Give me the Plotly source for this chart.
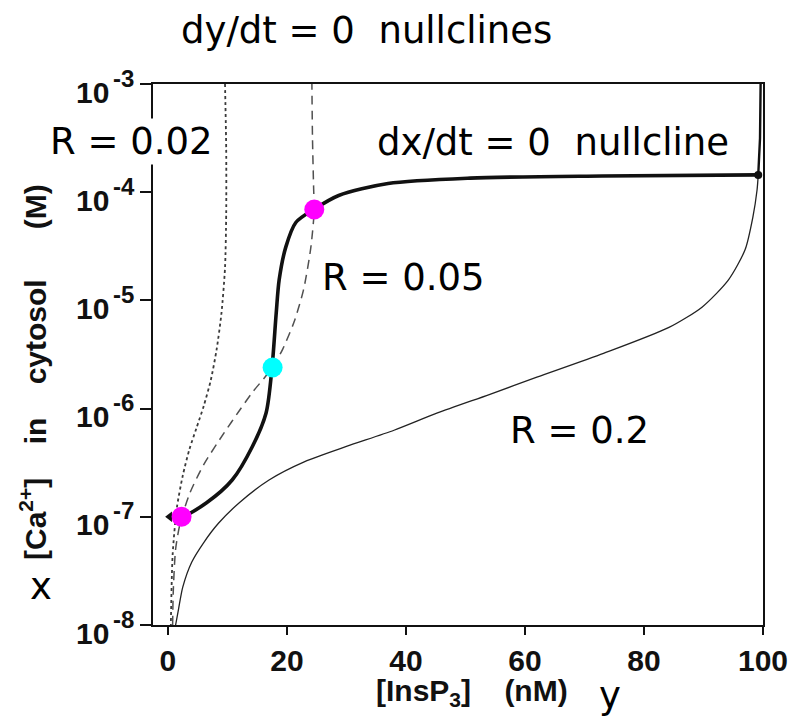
import numpy as np
import plotly.graph_objects as go

# ---------------- data ----------------
# dx/dt = 0 nullcline (thick):  InsP3 (nM), log10 [Ca2+]
thick_y = [0.3, 2.3, 6.5, 10.8, 14.2, 16.5, 17.5, 18.2, 18.7, 19.8, 21.5, 24.5, 28.7, 37, 50.8, 73, 99.2]
thick_logx = [-7.0, -7.0, -6.87, -6.66, -6.35, -6.04, -5.62, -5.12, -4.81, -4.51, -4.28, -4.16, -4.03, -3.92, -3.87, -3.85, -3.84]
vert_y = [99.2, 99.5, 99.6]
vert_logx = [-3.84, -3.5, -3.0]

# dy/dt = 0 nullclines
r002_y = [9.6, 9.8, 9.8, 9.6, 9.0, 8.2, 7.2, 6.0, 4.8, 3.6, 2.5, 1.5, 0.8, 0.5]
r002_logx = [-3.0, -3.6, -4.2, -4.7, -5.12, -5.45, -5.74, -5.98, -6.18, -6.38, -6.62, -6.92, -7.35, -8.0]

r005_y = [0.8, 0.9, 1.3, 2.1, 3.7, 6.0, 9.5, 12, 14.2, 16.3, 17.8, 19.3, 21.2, 22.8, 24.0, 24.6, 24.5, 24.3, 24.2]
r005_logx = [-8.0, -7.7, -7.3, -7.05, -6.78, -6.52, -6.22, -6.02, -5.85, -5.71, -5.6, -5.45, -5.2, -4.9, -4.52, -4.16, -3.98, -3.5, -3.0]

r02_y = [1.3, 1.8, 2.5, 4.0, 6.0, 8.5, 12, 17, 23, 30, 38, 45.3, 54, 62, 73.2, 84.2, 89.8, 94.2, 97, 98.3, 99, 99.2]
r02_logx = [-8.0, -7.85, -7.65, -7.42, -7.24, -7.06, -6.87, -6.66, -6.49, -6.35, -6.2, -6.04, -5.87, -5.71, -5.49, -5.25, -5.06, -4.81, -4.53, -4.23, -3.98, -3.84]

# fixed points
magenta_y = [2.3, 24.6]
magenta_logx = [-7.0, -4.16]
cyan_y = [17.6]
cyan_logx = [-5.62]

x_ticks = [0, 20, 40, 60, 80, 100]
y_tick_exp = [-8, -7, -6, -5, -4, -3]
y_tick_base = "10"

def p(v):
    return [10.0 ** a for a in v]

fig = go.Figure()
fig.add_trace(go.Scatter(x=r002_y, y=p(r002_logx), mode="lines",
                         line=dict(color="#3a3a3a", width=1.8, dash="dot", shape="spline", smoothing=0.7)))
fig.add_trace(go.Scatter(x=r005_y, y=p(r005_logx), mode="lines",
                         line=dict(color="#505050", width=1.5, dash="9px,6px", shape="spline", smoothing=0.7)))
fig.add_trace(go.Scatter(x=r02_y, y=p(r02_logx), mode="lines",
                         line=dict(color="#222222", width=1.3, shape="spline", smoothing=0.7)))
fig.add_trace(go.Scatter(x=thick_y, y=p(thick_logx), mode="lines",
                         line=dict(color="#111111", width=3.6, shape="spline", smoothing=0.8)))
fig.add_trace(go.Scatter(x=vert_y, y=p(vert_logx), mode="lines",
                         line=dict(color="#111111", width=2.4)))
fig.add_trace(go.Scatter(x=[thick_y[0]], y=[10 ** thick_logx[0]], mode="markers",
                         marker=dict(symbol="triangle-left", size=9, color="#111111")))
fig.add_trace(go.Scatter(x=[thick_y[-1]], y=[10 ** thick_logx[-1]], mode="markers",
                         marker=dict(symbol="circle", size=8, color="#111111")))
fig.add_trace(go.Scatter(x=magenta_y, y=p(magenta_logx), mode="markers",
                         marker=dict(symbol="circle", size=20, color="#ff00ff")))
fig.add_trace(go.Scatter(x=cyan_y, y=p(cyan_logx), mode="markers",
                         marker=dict(symbol="circle", size=20, color="#00ffff")))

L, R, T, B = 153, 32, 84, 100
W, H = 800, 725
PW, PH = W - L - R, H - T - B

def px(x):
    return (x - L) / PW

def py(y):
    return (H - B - y) / PH

tick_font = dict(family="Liberation Sans", size=30, color="#111111", weight="bold")
sup_font = dict(family="Liberation Sans", size=24, color="#111111", weight="bold")
dj = dict(family="DejaVu Sans", size=37, color="black")
lab = dict(family="Liberation Sans", size=30, color="#111111", weight="bold")
nb = "\u00a0"

ann = [
    dict(text="dy/dt = 0" + nb * 2 + "nullclines", x=px(368), y=py(30), font=dj),
    dict(text="R = 0.02", x=px(131), y=py(141), font=dj, bgcolor="white"),
    dict(text="dx/dt = 0" + nb * 2 + "nullcline", x=px(556), y=py(142), font=dj),
    dict(text="R = 0.05", x=px(406), y=py(277), font=dj),
    dict(text="R = 0.2", x=px(583), y=py(430), font=dj),
    dict(text="x", x=px(40), y=py(586), font=dj),
    dict(text="y", x=px(614), y=py(695), font=dj),
    dict(text="[Ca<sup>2+</sup>]" + nb * 4 + "in" + nb * 4 + "cytosol" + nb * 6 + "(M)",
         x=px(32), y=py(372), textangle=-90, font=lab),
    dict(text="[InsP<sub>3</sub>]" + nb * 4 + "(nM)", x=px(475), y=py(692), font=lab),
]
for a in ann:
    a.update(xref="paper", yref="paper", xanchor="center", yanchor="middle", showarrow=False)

# y tick labels: "10" with a large superscript exponent
for e in y_tick_exp:
    ann.append(dict(text=y_tick_base, xref="paper", yref="y", x=px(111), y=e, yshift=-8,
                    xanchor="right", yanchor="middle", showarrow=False, font=tick_font))
    ann.append(dict(text=str(e), xref="paper", yref="y", x=px(111), y=e, yshift=6,
                    xanchor="left", yanchor="middle", showarrow=False, font=sup_font))

fig.update_layout(
    width=W, height=H,
    margin=dict(l=L, r=R, t=T, b=B, pad=0),
    paper_bgcolor="white", plot_bgcolor="white",
    showlegend=False,
    annotations=ann,
    xaxis=dict(range=[-2.5, 100], tickvals=x_ticks, ticktext=[str(v) for v in x_ticks],
               showgrid=False, zeroline=False, showline=True, linecolor="#111111", linewidth=2,
               mirror=True, ticks="outside", ticklen=8, tickwidth=2, tickcolor="#111111",
               tickfont=tick_font),
    yaxis=dict(type="log", range=[-8, -3], tickvals=[10.0 ** e for e in y_tick_exp],
               showticklabels=False, showgrid=False, zeroline=False, showline=True,
               linecolor="#111111", linewidth=2, mirror=True, ticks="outside", ticklen=11,
               tickwidth=2, tickcolor="#111111"),
)

fig.write_html("out.html")
